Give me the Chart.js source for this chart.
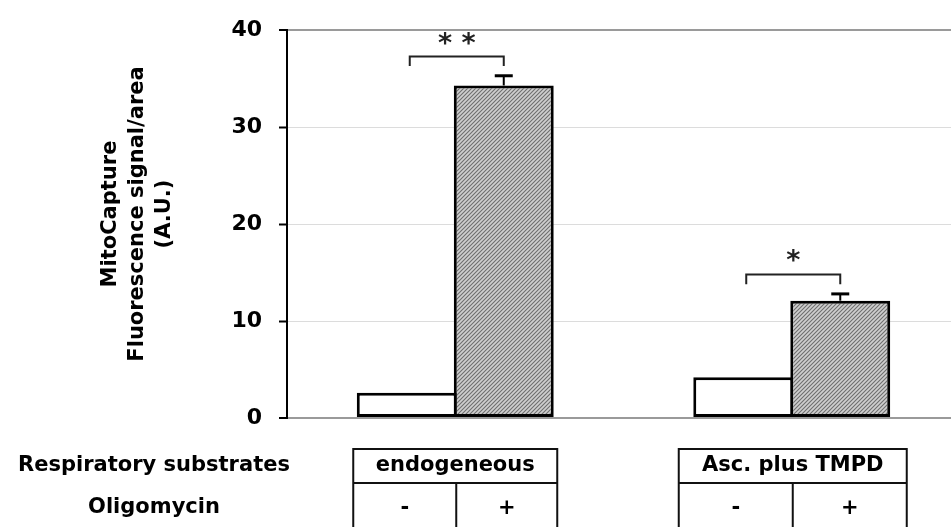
<!DOCTYPE html>
<html>
<head>
<meta charset="utf-8">
<script src="https://cdn.jsdelivr.net/npm/chart.js@4.4.1/dist/chart.umd.min.js"></script>
<style>
  html, body { margin: 0; padding: 0; background: #fff; overflow: hidden; }
  #wrap { width: 960px; height: 527px; }
</style>
</head>
<body>
<div id="wrap"><canvas id="c" width="960" height="527"></canvas></div>
<script>
// ---- data ----
const categories = ['endogeneous', 'Asc. plus TMPD'];
const oligoMinus = [2.6, 4.2];
const oligoPlus = [34.3, 12.1];
const oligoPlusErr = [1.0, 0.7];
const yTicks = [0, 10, 20, 30, 40];
const yTitle = ['MitoCapture', 'Fluorescence signal/area', '(A.U.)'];
const rowLabels = ['Respiratory substrates', 'Oligomycin'];
const oligoLabels = ['-', '+'];
const significance = ['* *', '*'];
const bracketTop = [37.3, 14.8];
const bracketLeg = [36.3, 13.8];
const starLevel = [38.9, 16.5];

const FONT = '"DejaVu Sans", Verdana, sans-serif';

// hatch pattern
function makePattern() {
  const p = document.createElement('canvas');
  p.width = 4; p.height = 4;
  const g = p.getContext('2d');
  g.fillStyle = '#cfcfcf';
  g.fillRect(0, 0, 4, 4);
  g.strokeStyle = '#6e6e6e';
  g.lineWidth = 1.1;
  g.beginPath();
  g.moveTo(0, 4); g.lineTo(4, 0);
  g.moveTo(-1, 1); g.lineTo(1, -1);
  g.moveTo(3, 5); g.lineTo(5, 3);
  g.stroke();
  return g.createPattern(p, 'repeat');
}
const hatch = makePattern();

const overlay = {
  id: 'overlay',
  afterDatasetsDraw(chart) {
    const ctx = chart.ctx;
    const y = chart.scales.y;
    const m0 = chart.getDatasetMeta(0);
    const m1 = chart.getDatasetMeta(1);
    ctx.save();
    // error bars
    ctx.strokeStyle = '#000';
    for (let i = 0; i < categories.length; i++) {
      const bar = m1.data[i];
      const yv = y.getPixelForValue(oligoPlus[i]);
      const ye = y.getPixelForValue(oligoPlus[i] + oligoPlusErr[i]);
      ctx.lineWidth = 2;
      ctx.beginPath(); ctx.moveTo(bar.x, yv); ctx.lineTo(bar.x, ye); ctx.stroke();
      ctx.lineWidth = 3;
      ctx.beginPath(); ctx.moveTo(bar.x - 9, ye); ctx.lineTo(bar.x + 9, ye); ctx.stroke();
    }
    // brackets
    ctx.strokeStyle = '#222';
    ctx.lineWidth = 2;
    for (let i = 0; i < categories.length; i++) {
      const xl = m0.data[i].x + 3, xr = m1.data[i].x;
      const yt = y.getPixelForValue(bracketTop[i]);
      const yl = y.getPixelForValue(bracketLeg[i]);
      ctx.beginPath();
      ctx.moveTo(xl, yl); ctx.lineTo(xl, yt); ctx.lineTo(xr, yt); ctx.lineTo(xr, yl);
      ctx.stroke();
      ctx.fillStyle = '#222';
      ctx.font = 'bold 27px ' + FONT;
      ctx.textAlign = 'center';
      ctx.textBaseline = 'middle';
      ctx.fillText(significance[i], (xl + xr) / 2, y.getPixelForValue(starLevel[i]) + 4);
    }
    ctx.restore();
  },
  afterDraw(chart) {
    const ctx = chart.ctx;
    const x = chart.scales.x;
    ctx.save();
    // y-axis title
    ctx.fillStyle = '#000';
    ctx.font = 'bold 21px ' + FONT;
    ctx.textAlign = 'center';
    ctx.textBaseline = 'middle';
    ctx.translate(138, 214);
    ctx.rotate(-Math.PI / 2);
    yTitle.forEach((t, k) => ctx.fillText(t, 0, (k - 1) * 27));
    ctx.restore();

    // table
    ctx.save();
    ctx.fillStyle = '#000';
    ctx.font = 'bold 21px ' + FONT;
    ctx.textAlign = 'center';
    ctx.textBaseline = 'middle';
    ctx.fillText(rowLabels[0], 154, 466);
    ctx.fillText(rowLabels[1], 154, 508);
    const boxL = [-102, -113], boxR = [102, 115];
    const top = 449, mid = 483, bot = 540;
    ctx.strokeStyle = '#111';
    ctx.lineWidth = 2;
    for (let i = 0; i < categories.length; i++) {
      const cx = x.getPixelForValue(i);
      const l = cx + boxL[i], r = cx + boxR[i], d = cx + 1;
      ctx.beginPath();
      ctx.moveTo(l, bot); ctx.lineTo(l, top); ctx.lineTo(r, top); ctx.lineTo(r, bot);
      ctx.moveTo(l, mid); ctx.lineTo(r, mid);
      ctx.moveTo(d, mid); ctx.lineTo(d, bot);
      ctx.stroke();
      ctx.fillText(categories[i], (l + r) / 2, 466);
      ctx.fillText(oligoLabels[0], (l + d) / 2, 509);
      ctx.fillText(oligoLabels[1], (d + r) / 2, 509);
    }
    ctx.restore();
  }
};

new Chart(document.getElementById('c'), {
  type: 'bar',
  data: {
    labels: categories,
    datasets: [
      { label: 'Oligomycin -', data: oligoMinus, backgroundColor: '#fff', borderColor: '#000', borderWidth: 3, borderSkipped: false },
      { label: 'Oligomycin +', data: oligoPlus, backgroundColor: hatch, borderColor: '#000', borderWidth: 3, borderSkipped: false }
    ]
  },
  options: {
    responsive: false,
    animation: false,
    devicePixelRatio: 1,
    layout: { padding: { top: 25, bottom: 109, left: 0, right: 0 } },
    plugins: { legend: { display: false }, tooltip: { enabled: false } },
    datasets: { bar: { categoryPercentage: 0.5766, barPercentage: 1.03 } },
    scales: {
      x: { display: false, offset: true },
      y: {
        min: 0, max: 40,
        afterFit(s) { s.width = 287; },
        afterBuildTicks(s) { s.ticks = yTicks.map(v => ({ value: v })); },
        ticks: { color: '#000', font: { family: FONT, size: 22, weight: 'bold' }, padding: 17 },
        border: { display: true, color: '#000', width: 2 },
        grid: {
          color: c => (c.tick && (c.tick.value === 40 || c.tick.value === 0)) ? '#9a9a9a' : '#dcdcdc',
          lineWidth: c => (c.tick && (c.tick.value === 40 || c.tick.value === 0)) ? 2 : 1,
          tickColor: '#000', tickLength: 8, tickWidth: 2, drawTicks: true
        }
      }
    }
  },
  plugins: [overlay]
});
</script>
</body>
</html>
